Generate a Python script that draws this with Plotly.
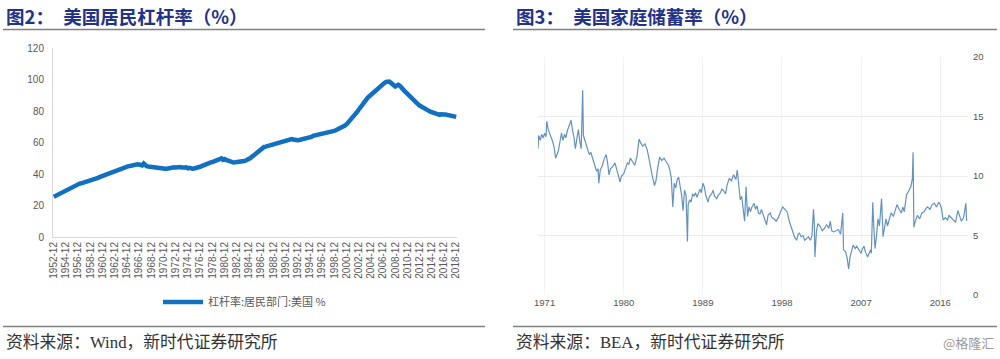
import plotly.graph_objects as go

# ---------------- Left chart: US household leverage (quarterly) ----------------
quarter_months = ["03", "06", "09", "12"]
lev_categories = ["1952-12"] + [f"{y}-{m}" for y in range(1953, 2019) for m in quarter_months]
lev_tick_labels = [f"{y}-12" for y in range(1952, 2019, 2)]
lev_series_name = "杠杆率:居民部门:美国 %"

leverage = [
    25.5,
    26.0, 26.6, 27.1, 27.6,   # 1953
    28.3, 28.9, 29.5, 30.1,   # 1954
    30.7, 31.2, 31.7, 32.1,   # 1955
    32.5, 32.9, 33.2, 33.6,   # 1956
    33.9, 34.1, 34.4, 34.6,   # 1957
    35.1, 35.3, 35.1, 35.6,   # 1958
    36.0, 36.4, 36.9, 37.1,   # 1959
    37.5, 38.0, 38.4, 38.6,   # 1960
    39.2, 39.4, 39.7, 40.1,   # 1961
    40.4, 40.7, 41.3, 41.6,   # 1962
    42.0, 42.3, 42.7, 43.1,   # 1963
    43.4, 43.8, 44.2, 44.6,   # 1964
    45.0, 45.1, 45.4, 45.7,   # 1965
    45.9, 46.2, 46.1, 46.0,   # 1966
    45.9, 45.5, 46.7, 45.3,   # 1967
    45.0, 44.8, 44.6, 44.8,   # 1968
    44.6, 44.5, 44.3, 44.0,   # 1969
    43.6, 43.3, 43.2, 43.5,   # 1970
    43.3, 43.4, 43.7, 43.6,   # 1971
    43.8, 43.9, 44.2, 44.1,   # 1972
    44.3, 44.6, 44.4, 44.1,   # 1973
    44.4, 44.1, 44.2, 43.6,   # 1974
    43.9, 43.3, 43.4, 43.5,   # 1975
    43.6, 43.9, 44.3, 44.6,   # 1976
    45.0, 45.5, 46.0, 46.4,   # 1977
    46.6, 47.1, 47.4, 47.6,   # 1978
    48.1, 48.6, 49.0, 49.3,   # 1979
    49.6, 49.9, 49.0, 49.5,   # 1980
    49.0, 48.6, 48.3, 48.0,   # 1981
    47.6, 47.3, 47.4, 47.5,   # 1982
    47.3, 47.7, 48.0, 47.9,   # 1983
    48.2, 48.6, 48.9, 49.4,   # 1984
    50.1, 50.9, 51.7, 52.6,   # 1985
    53.6, 54.5, 55.4, 56.1,   # 1986
    56.8, 57.2, 57.4, 57.7,   # 1987
    57.9, 58.2, 58.4, 58.6,   # 1988
    59.0, 59.4, 59.8, 60.2,   # 1989
    60.5, 60.8, 61.2, 61.5,   # 1990
    62.0, 62.1, 62.3, 62.2,   # 1991
    61.9, 61.6, 61.5, 61.5,   # 1992
    61.6, 61.8, 62.1, 62.3,   # 1993
    62.5, 62.8, 63.0, 63.2,   # 1994
    63.6, 64.2, 64.4, 64.6,   # 1995
    64.9, 65.0, 65.2, 65.5,   # 1996
    65.6, 65.6, 65.7, 65.9,   # 1997
    66.1, 66.5, 66.9, 67.4,   # 1998
    67.8, 68.2, 68.7, 69.3,   # 1999
    69.8, 70.2, 70.8, 71.5,   # 2000
    72.5, 73.5, 74.6, 75.6,   # 2001
    76.8, 78.0, 79.4, 80.8,   # 2002
    82.2, 83.8, 85.2, 86.3,   # 2003
    87.4, 88.5, 89.4, 90.3,   # 2004
    91.2, 92.1, 93.0, 94.0,   # 2005
    95.0, 95.9, 96.7, 97.4,   # 2006
    97.9, 98.4, 98.9, 98.7,   # 2007
    98.0, 97.2, 96.3, 95.6,   # 2008
    96.2, 96.6, 96.0, 95.2,   # 2009
    94.0, 92.8, 91.8, 90.8,   # 2010
    89.5, 88.4, 87.4, 86.5,   # 2011
    85.6, 84.8, 84.2, 83.5,   # 2012
    82.8, 82.2, 81.6, 81.0,   # 2013
    80.5, 80.1, 79.6, 79.2,   # 2014
    78.7, 78.2, 77.8, 77.6,   # 2015
    77.5, 77.9, 77.6, 77.8,   # 2016
    77.8, 77.6, 77.4, 77.8,   # 2017
    77.2, 76.9, 76.6, 76.3,   # 2018
]

# ---------------- Right chart: US personal saving rate ----------------
saving_dates = [
    "1970-04", "1970-05", "1970-07", "1970-09", "1970-11",
    "1971-01", "1971-03", "1971-04", "1971-06", "1971-08", "1971-10", "1971-12",
    "1972-02", "1972-04", "1972-06", "1972-08", "1972-10", "1972-12",
    "1973-02", "1973-04", "1973-06", "1973-08", "1973-11",
    "1974-01", "1974-03", "1974-05", "1974-07", "1974-09", "1974-11",
    "1975-01", "1975-03", "1975-05", "1975-06", "1975-08", "1975-10", "1975-12",
    "1976-02", "1976-04", "1976-06", "1976-08", "1976-10", "1976-12",
    "1977-02", "1977-03", "1977-05", "1977-08", "1977-10",
    "1978-01", "1978-03", "1978-05", "1978-07", "1978-10",
    "1979-01", "1979-03", "1979-05", "1979-08", "1979-10",
    "1980-01", "1980-03", "1980-06", "1980-08", "1980-10",
    "1981-01", "1981-04", "1981-07", "1981-10", "1981-12",
    "1982-03", "1982-06", "1982-09", "1982-11",
    "1983-01", "1983-04", "1983-07", "1983-09", "1983-11",
    "1984-02", "1984-05", "1984-08", "1984-11",
    "1985-02", "1985-04", "1985-06", "1985-08", "1985-10", "1985-12",
    "1986-02", "1986-04", "1986-06", "1986-08", "1986-10", "1986-12",
    "1987-02", "1987-04", "1987-05", "1987-07", "1987-09", "1987-11",
    "1988-01", "1988-03", "1988-05", "1988-07", "1988-09", "1988-11",
    "1989-01", "1989-03", "1989-05", "1989-08", "1989-10",
    "1990-01", "1990-03", "1990-05", "1990-08", "1990-10",
    "1991-01", "1991-03", "1991-05", "1991-08", "1991-10",
    "1992-01", "1992-04", "1992-07", "1992-10", "1992-12",
    "1993-02", "1993-04", "1993-06", "1993-08", "1993-10", "1993-12",
    "1994-02", "1994-04", "1994-06", "1994-08", "1994-11",
    "1995-01", "1995-03", "1995-05", "1995-07", "1995-09", "1995-11",
    "1996-01", "1996-04", "1996-06", "1996-09", "1996-11",
    "1997-02", "1997-05", "1997-08", "1997-11",
    "1998-02", "1998-05", "1998-08", "1998-11",
    "1999-02", "1999-04", "1999-06", "1999-09", "1999-11",
    "2000-01", "2000-03", "2000-06", "2000-08", "2000-10",
    "2001-01", "2001-04", "2001-06", "2001-08", "2001-09", "2001-10", "2001-12",
    "2002-02", "2002-05", "2002-08", "2002-11",
    "2003-02", "2003-05", "2003-07", "2003-09", "2003-12",
    "2004-03", "2004-06", "2004-09", "2004-12",
    "2005-01", "2005-04", "2005-06", "2005-08", "2005-10", "2005-12",
    "2006-02", "2006-05", "2006-07", "2006-10",
    "2007-01", "2007-03", "2007-05", "2007-07", "2007-10", "2007-12",
    "2008-02", "2008-03", "2008-05", "2008-06", "2008-08", "2008-10", "2008-12",
    "2009-02", "2009-04", "2009-05", "2009-07", "2009-09", "2009-11",
    "2010-01", "2010-03", "2010-06", "2010-09", "2010-12",
    "2011-02", "2011-05", "2011-08", "2011-10", "2011-12",
    "2012-03", "2012-06", "2012-09", "2012-11", "2012-12",
    "2013-01", "2013-03", "2013-06", "2013-09", "2013-12",
    "2014-03", "2014-06", "2014-08", "2014-11",
    "2015-02", "2015-05", "2015-08", "2015-11",
    "2016-01", "2016-03", "2016-05", "2016-08", "2016-11",
    "2017-01", "2017-04", "2017-07", "2017-10",
    "2018-01", "2018-03", "2018-06", "2018-09", "2018-12",
    "2019-01", "2019-02",
]
saving_rate = [
    12.3, 13.4, 13.0, 13.5, 13.2,
    13.6, 13.3, 14.6, 13.9, 13.6, 13.2, 12.9,
    12.4, 11.5, 11.8, 12.2, 12.9, 13.6,
    13.0, 13.5, 13.2, 13.8, 14.3,
    14.7, 13.9, 13.3, 12.3, 13.1, 13.9,
    12.9, 12.3, 17.2, 13.4, 13.0, 12.6, 12.2,
    11.8, 12.0, 11.6, 11.3, 11.0, 10.4,
    10.6, 9.4, 10.5, 10.9, 11.4,
    11.8, 11.1, 10.1, 10.6, 10.8,
    11.1, 10.5, 10.2, 9.5, 10.0,
    10.2, 10.5, 11.1, 11.0, 11.5,
    11.2, 10.9, 11.6, 13.1, 12.8,
    12.5, 12.7, 12.2, 11.6,
    10.8, 10.0, 9.2, 9.6, 10.5,
    11.6, 11.3, 11.5, 11.2,
    10.9, 10.5, 9.8, 7.4, 9.4, 9.0,
    9.7, 9.9, 9.3, 8.4, 7.1, 8.8,
    8.4, 4.5, 7.6, 8.0, 7.8, 8.5,
    8.3, 8.6, 8.2, 8.5, 8.9, 8.6,
    9.4, 9.1, 8.4, 7.8, 8.3,
    8.5, 8.8, 8.3, 8.1, 8.4,
    8.6, 8.9, 8.8, 8.5, 9.2,
    9.8, 9.6, 10.1, 9.7, 10.5,
    9.1, 8.0, 8.3, 7.2, 6.2, 9.1,
    6.6, 7.4, 7.0, 7.4, 7.7,
    7.2, 7.5, 6.9, 6.8, 7.2, 6.8,
    6.6, 5.9, 6.7, 6.9, 6.5,
    6.4, 6.2, 6.5, 7.0,
    7.4, 7.2, 7.0, 6.2,
    5.6, 5.2, 4.9, 4.6, 5.1,
    5.2, 4.9, 5.0, 4.6, 4.7,
    4.9, 4.6, 5.0, 7.2, 6.2, 3.2, 5.3,
    6.0, 5.8, 5.4, 5.6,
    5.9, 5.6, 6.2, 5.4, 5.3,
    5.4, 5.5, 5.1, 6.9,
    3.8, 3.6, 3.1, 2.2, 3.2, 3.8,
    4.2, 3.9, 4.1, 3.8,
    3.5, 3.9, 4.1, 3.6, 3.2, 3.5,
    3.8, 3.5, 7.8, 6.2, 3.9, 4.9, 6.4,
    5.8, 7.0, 8.1, 4.9, 5.6, 6.4,
    5.8, 6.2, 6.9, 6.6, 7.3,
    7.6, 7.2, 6.9, 7.4, 7.0,
    8.4, 8.8, 9.1, 9.8, 12.0,
    5.7, 6.2, 6.7, 6.4, 6.9,
    7.0, 7.3, 7.4, 7.2,
    7.6, 7.7, 7.4, 7.8,
    7.6, 7.2, 6.3, 6.5, 6.3,
    6.7, 6.5, 6.3, 6.1,
    7.1, 6.8, 6.2, 6.5, 7.7,
    6.3, 6.3,
]
saving_tick_years = [1971, 1980, 1989, 1998, 2007, 2016]

# ---------------- Text ----------------
title_left = "图2：　美国居民杠杆率（%）"
title_right = "图3：　美国家庭储蓄率（%）"
source_left = "资料来源：Wind，新时代证券研究所"
source_right = "资料来源：BEA，新时代证券研究所"
watermark = "@格隆汇"

W, H = 1000, 359
def py(px):  # pixel row -> paper y
    return (H - px) / H

fig = go.Figure()
fig.add_trace(go.Scatter(
    x=lev_categories, y=leverage, mode="lines", name=lev_series_name,
    line=dict(color="#1270C2", width=4.5), xaxis="x", yaxis="y", showlegend=True,
))
fig.add_trace(go.Scatter(
    x=saving_dates, y=saving_rate, mode="lines", name="储蓄率",
    line=dict(color="#6392c0", width=1.2), xaxis="x2", yaxis="y2", showlegend=False,
))

axis_font = dict(family="Liberation Sans, Arial, sans-serif", size=10, color="#595959")
te_font = dict(family="Liberation Sans Narrow, Liberation Sans, sans-serif", size=9.5, color="#555555")

fig.update_layout(
    width=W, height=H, autosize=False,
    margin=dict(l=0, r=0, t=0, b=0, pad=0),
    paper_bgcolor="white", plot_bgcolor="white",
    xaxis=dict(
        domain=[0.053, 0.457], anchor="y", type="category", automargin=False,
        range=[-0.5, len(lev_categories) - 0.5],
        tickmode="array", tickvals=lev_tick_labels, ticktext=lev_tick_labels,
        tickangle=-90, tickfont=axis_font, showgrid=False, zeroline=False,
        showline=True, linecolor="#d9d9d9", linewidth=1, ticks="",
    ),
    yaxis=dict(
        domain=[py(237), py(48)], anchor="x", range=[0, 120], dtick=20, automargin=False,
        tickfont=axis_font, showgrid=False, zeroline=False,
        showline=True, linecolor="#d9d9d9", linewidth=1, ticks="",
        ticklabelstandoff=6,
    ),
    xaxis2=dict(
        domain=[0.538, 0.968], anchor="y2", type="date", automargin=False,
        range=["1970-04-01", "2019-03-01"],
        tickmode="array", tickvals=[f"{y}-01-01" for y in saving_tick_years],
        ticktext=[str(y) for y in saving_tick_years],
        tickfont=te_font, showgrid=True, gridcolor="#f2f2f2", gridwidth=1,
        zeroline=False, showline=False, ticks="",
    ),
    yaxis2=dict(
        domain=[py(295), py(57)], anchor="x2", side="right", range=[0, 20], dtick=5,
        automargin=False,
        tickfont=te_font, showgrid=True, gridcolor="#ececec", gridwidth=1,
        zeroline=False, showline=False, ticks="", ticklabelstandoff=4,
    ),
    legend=dict(
        x=0.158, y=py(302), xanchor="left", yanchor="middle",
        font=dict(family="Noto Sans CJK SC, sans-serif", size=11, color="#595959"),
        bgcolor="rgba(0,0,0,0)", itemwidth=40,
    ),
    showlegend=True,
)

rule = dict(color="#808080", width=1.5)
fig.add_shape(type="line", xref="paper", yref="paper", x0=0.003, x1=0.485, y0=py(29.5), y1=py(29.5), line=rule)
fig.add_shape(type="line", xref="paper", yref="paper", x0=0.513, x1=0.997, y0=py(29.5), y1=py(29.5), line=rule)
fig.add_shape(type="line", xref="paper", yref="paper", x0=0.003, x1=0.485, y0=py(326.5), y1=py(326.5), line=rule)
fig.add_shape(type="line", xref="paper", yref="paper", x0=0.513, x1=0.997, y0=py(326.5), y1=py(326.5), line=rule)

title_font = dict(family="Noto Sans CJK SC, sans-serif", size=18.5, color="#22318a")
src_font = dict(family="Liberation Serif, Noto Sans CJK SC, serif", size=16.8, color="#333333")
fig.add_annotation(text=f"<b>{title_left}</b>", xref="paper", yref="paper", x=0.004, y=py(15.5),
                   xanchor="left", yanchor="middle", showarrow=False, font=title_font)
fig.add_annotation(text=f"<b>{title_right}</b>", xref="paper", yref="paper", x=0.514, y=py(15.5),
                   xanchor="left", yanchor="middle", showarrow=False, font=title_font)
fig.add_annotation(text=source_left, xref="paper", yref="paper", x=0.004, y=py(342),
                   xanchor="left", yanchor="middle", showarrow=False, font=src_font)
fig.add_annotation(text=source_right, xref="paper", yref="paper", x=0.514, y=py(342),
                   xanchor="left", yanchor="middle", showarrow=False, font=src_font)
fig.add_annotation(text=watermark, xref="paper", yref="paper", x=0.996, y=py(342),
                   xanchor="right", yanchor="middle", showarrow=False,
                   font=dict(family="Noto Sans CJK SC, sans-serif", size=13, color="#9a9a9a"))

fig.write_html("out.html", config={"displayModeBar": False},
               post_script="document.body.style.margin='0';")
